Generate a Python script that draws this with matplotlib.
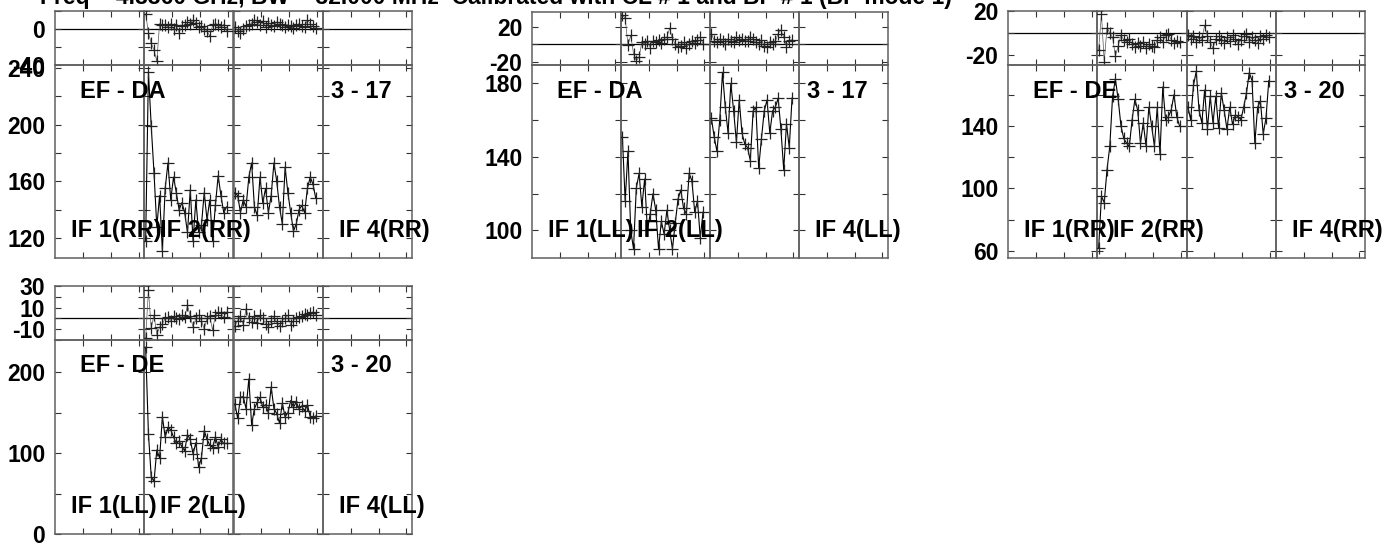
import numpy as np
import matplotlib
matplotlib.use("Agg")
import matplotlib.pyplot as plt
from matplotlib.ticker import FixedLocator, NullFormatter

plt.rcParams['font.family'] = ['Liberation Sans', 'DejaVu Sans']
plt.rcParams['font.weight'] = 'bold'
plt.rcParams['axes.unicode_minus'] = False

TITLE = "Freq = 4.8360 GHz, BW = 32.000 MHz  Calibrated with CL # 1 and BP # 1 (BP mode 1)"

baselines = ["EF - DA", "EF - DA", "EF - DE", "EF - DE"]
times = ["3 - 17", "3 - 17", "3 - 20", "3 - 20"]
pols = ["RR", "LL", "RR", "LL"]
if_names = ["IF 1", "IF 2", "IF 4"]
if_cols = [0, 1, 3]

channels = np.arange(30) + 0.5

# amplitudes (IF 2, IF 3) per panel
amp_if2_p1 = [118, 237, 199, 166, 128, 150, 111, 155, 173, 147, 163, 152, 140, 145, 138,
              124, 154, 118, 147, 124, 129, 152, 133, 147, 118, 143, 164, 150, 138, 142]
amp_if3_p1 = [152, 150, 138, 147, 142, 163, 173, 142, 136, 163, 145, 155, 138, 150, 173,
              160, 142, 130, 170, 152, 138, 125, 130, 140, 143, 138, 155, 163, 158, 148]
amp_if2_p2 = [151, 116, 143, 100, 90, 123, 131, 113, 128, 100, 109, 120, 111, 90, 105,
              98, 111, 100, 90, 104, 117, 122, 112, 109, 131, 127, 110, 116, 96, 110]
amp_if3_p2 = [161, 151, 143, 160, 186, 167, 153, 180, 165, 148, 171, 153, 147, 145, 138,
              165, 167, 134, 150, 165, 171, 153, 165, 167, 172, 155, 133, 158, 145, 172]
amp_if2_p3 = [62, 95, 91, 112, 127, 159, 170, 157, 140, 132, 129, 127, 144, 157, 150,
              129, 142, 127, 152, 140, 127, 152, 122, 165, 144, 146, 150, 160, 146, 140]
amp_if3_p3 = [152, 144, 166, 175, 150, 142, 163, 138, 159, 142, 159, 139, 161, 150, 138,
              152, 141, 147, 146, 144, 152, 161, 174, 169, 129, 152, 156, 135, 145, 169]
amp_if2_p4 = [231, 124, 71, 65, 104, 94, 145, 120, 132, 129, 120, 112, 115, 108, 103,
              123, 117, 99, 113, 83, 94, 128, 117, 110, 107, 120, 108, 117, 112, 112]
amp_if3_p4 = [161, 143, 169, 170, 155, 192, 135, 155, 163, 169, 157, 160, 150, 182, 155,
              149, 137, 162, 145, 150, 165, 157, 163, 155, 158, 152, 160, 145, 143, 146]

# phases (IF 2, IF 3) per panel
ph_if2_p1 = [17, -4, -16, -23, -36, 6, 4, 5, 2, 6, 0, 4, -4, 3, 5,
             8, 6, 10, 7, 2, 3, 0, -2, -8, 4, 6, 5, 2, 5, -2]
ph_if3_p1 = [2, -2, -4, 0, 3, 5, 6, 10, 8, 4, 9, 2, 7, 5, 3,
             8, 6, 4, 2, 5, 3, 1, 4, 6, 3, 2, 10, 6, 3, 1]
ph_if2_p2 = [33, 30, -1, 10, -11, -19, -15, 2, 0, 4, -4, 3, 2, 5, 1,
             6, 8, 18, 6, 0, -3, -2, 2, -4, 0, 3, 1, 5, 8, 0]
ph_if3_p2 = [12, 4, 2, 6, 3, 0, 6, 4, 2, 8, 5, 6, 3, 4, 8,
             6, 2, 0, 5, -2, -3, 2, 0, 3, 12, 16, 8, -3, 4, 5]
ph_if2_p3 = [-15, 17, -26, 5, 0, -4, -21, -12, -2, -6, -8, -5, -10, -13, -9,
             -12, -8, -14, -10, -12, -13, -6, -4, -8, -2, -1, -6, -9, -7, -8]
ph_if3_p3 = [-2, -5, -3, -8, -4, -6, 7, -3, -8, -14, -5, -3, -6, -9, -4,
             -7, -2, -5, -10, -6, -3, -1, -8, -4, -6, -9, -3, -5, -2, -4]
ph_if2_p4 = [-18, 26, -9, 3, -15, -8, -5, 0, 1, -2, 2, 0, -1, 3, 1,
             12, 2, -8, 0, 3, -2, -10, 0, 2, -11, 3, 6, 5, 1, 6]
ph_if3_p4 = [-7, -2, 2, -6, 9, 0, -3, 2, -4, 3, 0, -5, -8, -2, 2,
             -4, -7, -2, 0, 3, -6, -2, 0, 1, 2, 4, 3, 5, 6, 3]

amps = [(amp_if2_p1, amp_if3_p1), (amp_if2_p2, amp_if3_p2),
        (amp_if2_p3, amp_if3_p3), (amp_if2_p4, amp_if3_p4)]
phases = [(ph_if2_p1, ph_if3_p1), (ph_if2_p2, ph_if3_p2),
          (ph_if2_p3, ph_if3_p3), (ph_if2_p4, ph_if3_p4)]

amp_labels = [[120, 160, 200, 240], [100, 140, 180], [60, 100, 140], [0, 100, 200]]
amp_minor = [[140, 180, 220], [120, 160], [80, 120, 160], [50, 150]]
ph_labels = [[0, -40], [20, -20], [20, -20], [30, 10, -10]]
ph_minor = [[20, -20], [0], [0], [20, 0, -20]]

# layout (pixels): left, right, top, mid, bottom
W, H = 1399, 546
geo = [(55, 412, 11, 65, 258), (532, 888, 12, 65, 258),
       (1008, 1365, 11, 65, 258), (55, 412, 286, 340, 534)]
amp_lims = [(106, 242), (85, 190), (55.5, 179), (0, 240)]
ph_lims = [(-40, 20), (-24, 36.6), (-29, 20), (-20, 30)]

fig = plt.figure(figsize=(W / 100, H / 100), dpi=100)
frame_col = '#606060'


def style(ax, ylim, major, minor, first):
    ax.set_xlim(0, 32)
    ax.set_ylim(*ylim)
    ax.xaxis.set_major_locator(FixedLocator([10, 20, 30]))
    ax.xaxis.set_major_formatter(NullFormatter())
    ax.yaxis.set_major_locator(FixedLocator(major))
    ax.yaxis.set_minor_locator(FixedLocator(minor))
    ax.yaxis.set_minor_formatter(NullFormatter())
    if not first:
        ax.yaxis.set_major_formatter(NullFormatter())
    ax.tick_params(which='both', direction='in', top=True, right=True,
                   length=4.5, width=0.8, color='#333333', labelsize=16.5, pad=7)
    for s in ax.spines.values():
        s.set_color(frame_col)
        s.set_linewidth(1.1)
    ax.set_facecolor('none')
    for lab in ax.get_yticklabels():
        lab.set_fontweight('bold')


for p in range(4):
    left, right, top, mid, bottom = geo[p]
    cw = (right - left) / 4
    for c in range(4):
        x0 = (left + c * cw) / W
        axp = fig.add_axes([x0, 1 - mid / H, cw / W, (mid - top) / H])
        axa = fig.add_axes([x0, 1 - bottom / H, cw / W, (bottom - mid) / H])
        style(axp, ph_lims[p], ph_labels[p], ph_minor[p], c == 0)
        style(axa, amp_lims[p], amp_labels[p], amp_minor[p], c == 0)
        axp.axhline(0, color='black', lw=0.9, zorder=1)
        if c in (1, 2):
            k = c - 1
            axa.plot(channels, amps[p][k], color='black', lw=0.8,
                     marker='+', ms=8, mew=0.9, mec='#222222', zorder=3)
            axp.plot(channels, phases[p][k], color='#555555', lw=0.5,
                     marker='+', ms=8, mew=0.9, mec='#222222', zorder=3)
    # text labels
    fs = 17
    fig.text((left + 25) / W, 1 - (mid + 26) / H, baselines[p], fontsize=fs,
             fontweight='bold', va='center', ha='left', zorder=5)
    fig.text((left + 3 * cw + 8) / W, 1 - (mid + 26) / H, times[p], fontsize=fs,
             fontweight='bold', va='center', ha='left', zorder=5)
    for name, c in zip(if_names, if_cols):
        fig.text((left + c * cw + 16) / W, 1 - (bottom - 28) / H,
                 f"{name}({pols[p]})", fontsize=fs, fontweight='bold',
                 va='center', ha='left', zorder=5)

fig.text(40 / W, 1 - 4.0 / H, TITLE, fontsize=16.5, fontweight='bold',
         va='baseline', ha='left', zorder=5)

fig.savefig("out.png", dpi=100)
